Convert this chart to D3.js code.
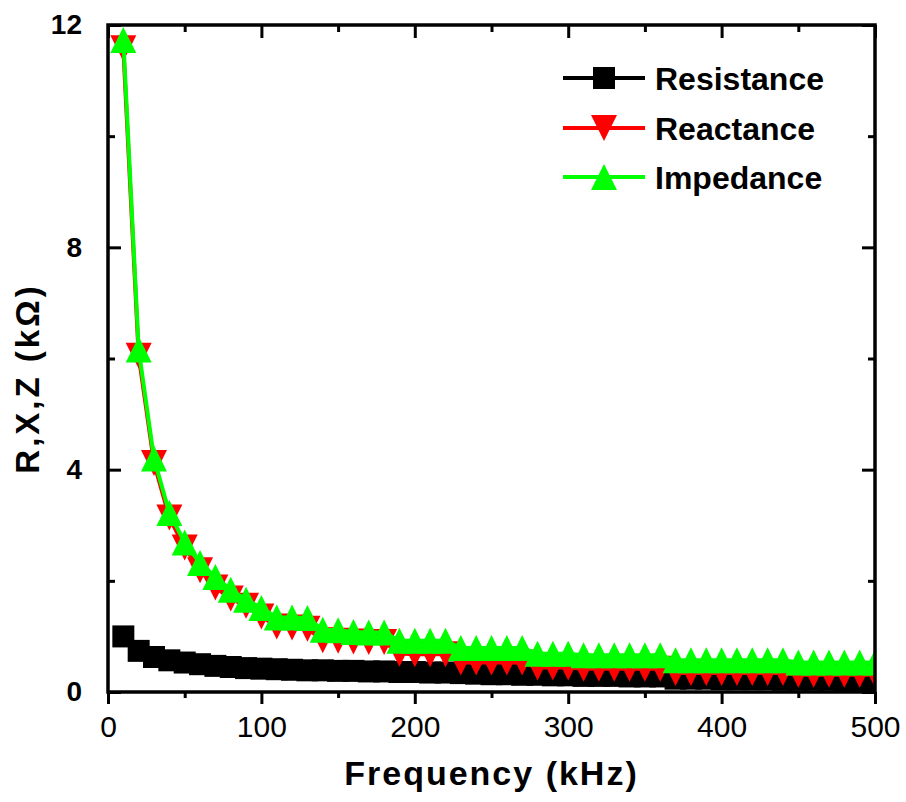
<!DOCTYPE html>
<html>
<head>
<meta charset="utf-8">
<script src="https://cdn.jsdelivr.net/npm/d3@7"></script>
<style>
  body { margin: 0; background: #fff; }
  text { font-family: "Liberation Sans", Arial, sans-serif; }
</style>
</head>
<body>
<div id="container"></div>
<script>
/* CONSTANTS AND GLOBALS */
const width = 906;
const height = 802;
const plotLeft = 108, plotRight = 875, plotTop = 25, plotBottom = 692;

/* DATA */
const frequency = [10, 20, 30, 40, 50, 60, 70, 80, 90, 100,
  110, 120, 130, 140, 150, 160, 170, 180, 190, 200,
  210, 220, 230, 240, 250, 260, 270, 280, 290, 300,
  310, 320, 330, 340, 350, 360, 370, 380, 390, 400,
  410, 420, 430, 440, 450, 460, 470, 480, 490, 500];

const resistance = [1.00, 0.74, 0.63, 0.57, 0.53, 0.50, 0.47, 0.45, 0.43, 0.42,
  0.41, 0.40, 0.39, 0.39, 0.38, 0.38, 0.37, 0.37, 0.36, 0.36,
  0.35, 0.35, 0.34, 0.33, 0.32, 0.32, 0.31, 0.31, 0.30, 0.30,
  0.29, 0.29, 0.29, 0.28, 0.28, 0.28, 0.24, 0.24, 0.24, 0.23,
  0.23, 0.23, 0.23, 0.22, 0.22, 0.22, 0.22, 0.21, 0.21, 0.21];

const reactance = [11.58, 6.05, 4.12, 3.14, 2.60, 2.19, 1.88, 1.68, 1.55, 1.36,
  1.18, 1.16, 1.14, 0.93, 0.92, 0.91, 0.90, 0.90, 0.69, 0.68,
  0.68, 0.68, 0.53, 0.53, 0.53, 0.53, 0.53, 0.44, 0.44, 0.44,
  0.42, 0.42, 0.42, 0.42, 0.42, 0.42, 0.34, 0.34, 0.34, 0.34,
  0.34, 0.34, 0.34, 0.34, 0.31, 0.31, 0.31, 0.31, 0.31, 0.31];

const impedance = [11.73, 6.16, 4.20, 3.22, 2.69, 2.32, 2.07, 1.84, 1.66, 1.51,
  1.34, 1.34, 1.33, 1.12, 1.11, 1.08, 1.07, 1.07, 0.92, 0.92,
  0.92, 0.92, 0.79, 0.79, 0.79, 0.79, 0.79, 0.69, 0.69, 0.69,
  0.66, 0.66, 0.66, 0.66, 0.66, 0.66, 0.57, 0.57, 0.57, 0.57,
  0.57, 0.57, 0.57, 0.57, 0.53, 0.53, 0.53, 0.53, 0.53, 0.53];

const seriesNames = ["Resistance", "Reactance", "Impedance"];
const seriesColors = ["#000000", "#ff0000", "#00ff00"];
const xTicks = [0, 100, 200, 300, 400, 500];
const xMinor = [50, 150, 250, 350, 450];
const yTicks = [0, 4, 8, 12];
const yMinor = [2, 6, 10];

// marker shapes, drawn centred on their box like Origin does
const triUp = { draw(ctx, size) { const s = Math.sqrt(size); ctx.moveTo(0, -s / 2); ctx.lineTo(s / 2, s / 2); ctx.lineTo(-s / 2, s / 2); ctx.closePath(); } };
const triDown = { draw(ctx, size) { const s = Math.sqrt(size); ctx.moveTo(0, s / 2); ctx.lineTo(s / 2, -s / 2); ctx.lineTo(-s / 2, -s / 2); ctx.closePath(); } };
const square = { draw(ctx, size) { const s = Math.sqrt(size); ctx.rect(-s / 2, -s / 2, s, s); } };

const series = [
  { name: seriesNames[0], color: seriesColors[0], values: resistance, shape: square, size: 22 * 22 },
  { name: seriesNames[1], color: seriesColors[1], values: reactance, shape: triDown, size: 26 * 26 },
  { name: seriesNames[2], color: seriesColors[2], values: impedance, shape: triUp, size: 26 * 26 }
];

/* SCALES */
const xScale = d3.scaleLinear().domain([0, 500]).range([plotLeft, plotRight]);
const yScale = d3.scaleLinear().domain([0, 12]).range([plotBottom, plotTop]);

/* SVG */
const svg = d3.select("#container")
  .append("svg")
  .attr("width", width)
  .attr("height", height);

svg.append("clipPath").attr("id", "plotClip")
  .append("rect")
  .attr("x", plotLeft).attr("y", plotTop - 20)
  .attr("width", plotRight - plotLeft).attr("height", plotBottom - plotTop + 20);

const plot = svg.append("g").attr("clip-path", "url(#plotClip)");

const line = d3.line()
  .x((d, i) => xScale(frequency[i]))
  .y(d => yScale(d));

series.forEach(s => {
  const g = plot.append("g");
  g.append("path")
    .datum(s.values)
    .attr("d", line)
    .attr("fill", "none")
    .attr("stroke", s.color)
    .attr("stroke-width", 4);
  g.selectAll("path.m")
    .data(s.values)
    .join("path")
    .attr("class", "m")
    .attr("transform", (d, i) => `translate(${xScale(frequency[i])},${yScale(d)})`)
    .attr("d", d3.symbol().type(s.shape).size(s.size))
    .attr("fill", s.color);
});

/* AXES */
function styleAxis(g) {
  g.select(".domain").remove();
  g.selectAll(".tick line").attr("stroke", "#000").attr("stroke-width", 3);
}

// bottom: ticks outward
svg.append("g")
  .attr("transform", `translate(0,${plotBottom})`)
  .call(d3.axisBottom(xScale).tickValues(xMinor).tickSize(6).tickFormat(""))
  .call(styleAxis);
svg.append("g")
  .attr("transform", `translate(0,${plotBottom})`)
  .call(d3.axisBottom(xScale).tickValues(xTicks).tickSize(12).tickPadding(12))
  .call(styleAxis)
  .call(g => g.selectAll("text")
    .attr("font-size", 30)
    .attr("fill", "#000")
    .attr("font-family", "Liberation Sans, Arial, sans-serif"));

// top: ticks inward
svg.append("g")
  .attr("transform", `translate(0,${plotTop})`)
  .call(d3.axisTop(xScale).tickValues(xMinor).tickSize(-7).tickFormat(""))
  .call(styleAxis);
svg.append("g")
  .attr("transform", `translate(0,${plotTop})`)
  .call(d3.axisTop(xScale).tickValues(xTicks).tickSize(-13).tickFormat(""))
  .call(styleAxis);

// left: ticks inward
svg.append("g")
  .attr("transform", `translate(${plotLeft},0)`)
  .call(d3.axisLeft(yScale).tickValues(yMinor).tickSize(-7).tickFormat(""))
  .call(styleAxis);
svg.append("g")
  .attr("transform", `translate(${plotLeft},0)`)
  .call(d3.axisLeft(yScale).tickValues(yTicks).tickSize(-13).tickPadding(26))
  .call(styleAxis)
  .call(g => g.selectAll("text")
    .attr("font-size", 28)
    .attr("font-weight", "bold")
    .attr("fill", "#000")
    .attr("font-family", "Liberation Sans, Arial, sans-serif"));

// right: ticks inward
svg.append("g")
  .attr("transform", `translate(${plotRight},0)`)
  .call(d3.axisRight(yScale).tickValues(yMinor).tickSize(-7).tickFormat(""))
  .call(styleAxis);
svg.append("g")
  .attr("transform", `translate(${plotRight},0)`)
  .call(d3.axisRight(yScale).tickValues(yTicks).tickSize(-13).tickFormat(""))
  .call(styleAxis);

// frame
svg.append("rect")
  .attr("x", plotLeft).attr("y", plotTop)
  .attr("width", plotRight - plotLeft).attr("height", plotBottom - plotTop)
  .attr("fill", "none")
  .attr("stroke", "#000")
  .attr("stroke-width", 3.5);

/* TITLES */
svg.append("text")
  .attr("x", (plotLeft + plotRight) / 2)
  .attr("y", 785)
  .attr("text-anchor", "middle")
  .attr("font-size", 34)
  .attr("font-weight", "bold")
  .attr("letter-spacing", 2)
  .text("Frequency (kHz)");

svg.append("text")
  .attr("transform", `translate(39,${(plotTop + plotBottom) / 2 + 20}) rotate(-90)`)
  .attr("text-anchor", "middle")
  .attr("font-size", 33)
  .attr("font-weight", "bold")
  .attr("letter-spacing", 3)
  .text("R,X,Z (kΩ)");

/* LEGEND */
const legend = svg.append("g");
const legendRows = [78, 128, 177];
series.forEach((s, i) => {
  const gy = legendRows[i];
  legend.append("line")
    .attr("x1", 563).attr("x2", 645)
    .attr("y1", gy).attr("y2", gy)
    .attr("stroke", s.color)
    .attr("stroke-width", 4);
  legend.append("path")
    .attr("transform", `translate(604,${gy})`)
    .attr("d", d3.symbol().type(s.shape).size(s.size))
    .attr("fill", s.color);
  legend.append("text")
    .attr("x", 655)
    .attr("y", gy + 11.5)
    .attr("font-size", 32)
    .attr("font-weight", "bold")
    .text(s.name);
});
</script>
</body>
</html>
